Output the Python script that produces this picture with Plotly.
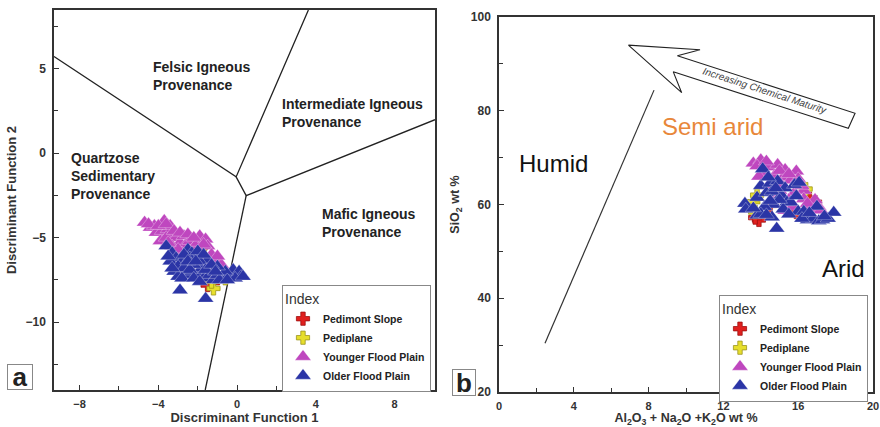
import plotly.graph_objects as go

# ---------------- Panel (a): discriminant function diagram ----------------
a_ped_slope_x = [-1.85, -1.5, -1.2, -2.2, -1.0, -2.7]
a_ped_slope_y = [-5.6, -7.8, -6.3, -6.3, -7.4, -6.6]
a_pediplane_x = [-1.2, -2.9, -0.6, -1.7, -1.3, -1.9]
a_pediplane_y = [-8.0, -6.6, -7.4, -6.7, -7.6, -5.8]
a_younger_x = [-4.7, -4.4, -4.1, -3.7, -3.8, -3.5, -3.3, -3.9, -3.6, -3.1, -2.9, -2.7, -3.3, -2.6,
               -2.4, -2.2, -2.0, -1.9, -1.6, -1.5, -1.8, -2.3, -2.8, -1.3, -1.1, -0.8, -1.6, -2.0,
               -1.4, -3.0, -4.2, -3.4, -4.5, -4.0, -3.6, -3.2, -2.9, -2.5, -2.2, -1.7, -2.5, -3.5,
               -1.0, -1.9]
a_younger_y = [-4.1, -4.4, -4.7, -4.0, -4.6, -4.5, -4.9, -5.2, -5.0, -5.0, -5.3, -4.9, -5.5, -5.4,
               -5.2, -5.6, -5.3, -4.9, -5.1, -5.5, -5.9, -6.0, -5.9, -6.0, -6.4, -6.6, -6.5, -6.6,
               -6.9, -5.7, -4.3, -4.3, -4.2, -4.3, -4.2, -4.6, -4.7, -4.8, -5.0, -5.4, -5.9, -5.3,
               -6.1, -6.2]
a_older_x = [-3.6, -3.3, -3.1, -2.8, -2.5, -2.3, -2.1, -2.6, -2.9, -3.2, -3.0, -2.6, -2.3, -2.0,
             -1.8, -1.7, -1.4, -1.2, -1.0, -0.7, -0.4, -0.2, 0.1, 0.2, -0.1, -0.6, -1.5, -1.9,
             -2.2, -2.4, -2.0, -1.7, -2.9, -1.6, -1.0, -2.7, -0.9, -3.4, -3.5, -3.0, -2.7, -2.4,
             -1.6, -1.3, -1.1, -0.5, 0.3, -2.8, -2.2, -1.9, -2.5, -3.3, -2.1]
a_older_y = [-5.5, -5.9, -6.2, -6.4, -5.7, -5.9, -6.1, -6.6, -6.9, -7.0, -7.3, -7.2, -7.0, -7.2,
             -6.8, -7.4, -7.2, -7.5, -7.2, -7.3, -7.2, -6.9, -7.0, -7.3, -7.4, -7.0, -6.3, -6.4,
             -6.6, -6.2, -5.8, -6.0, -8.1, -8.6, -6.7, -6.0, -7.5, -6.4, -6.1, -6.7, -6.8, -6.9,
             -6.9, -6.6, -7.0, -7.5, -7.3, -7.4, -7.4, -7.6, -6.4, -6.8, -6.4]

# provenance field boundaries (segments separated by None)
bound_x = [-9.3, -0.05, 3.62, None, -0.05, 0.46, 10.05, None, 0.46, -1.62]
bound_y = [5.7, -1.41, 8.45, None, -1.41, -2.52, 1.97, None, -2.52, -14.0]

a_labels = ["Felsic Igneous<br>Provenance", "Intermediate Igneous<br>Provenance",
            "Quartzose<br>Sedimentary<br>Provenance", "Mafic Igneous<br>Provenance"]
a_label_x = [-4.35, 2.2, -8.55, 4.2]
a_label_y = [4.56, 2.35, -1.34, -4.14]

# ---------------- Panel (b): SiO2 vs Al2O3+Na2O+K2O ----------------
b_ped_slope_x = [13.9, 16.6, 15.9, 13.7, 16.9, 14.5]
b_ped_slope_y = [56.7, 61.2, 58.4, 57.2, 60.5, 59.8]
b_pediplane_x = [13.6, 16.4, 13.7, 16.7, 13.8]
b_pediplane_y = [60.6, 63.3, 58.4, 59.0, 62.0]
b_younger_x = [13.6, 14.0, 14.4, 14.9, 15.3, 15.9, 14.2, 14.7, 15.2, 15.6, 16.0, 16.3, 16.3, 16.8,
               17.1, 15.8, 15.3, 15.7, 14.6, 15.0, 14.4, 16.6, 15.5, 13.9, 16.9, 13.8, 14.3, 15.0,
               15.5, 16.2, 15.1, 14.8, 16.5, 17.2]
b_younger_y = [68.8, 69.5, 68.0, 68.5, 67.4, 67.1, 66.5, 66.0, 65.8, 65.2, 65.5, 63.0, 61.2, 60.0,
               59.5, 62.5, 58.7, 59.5, 61.0, 63.0, 64.0, 59.0, 61.0, 66.0, 61.0, 68.2, 69.2, 67.2,
               66.5, 64.0, 64.2, 62.5, 60.2, 58.8]
b_older_x = [13.15, 13.2, 13.8, 13.8, 14.0, 14.1, 14.3, 14.5, 14.6, 14.85, 14.7, 14.9, 15.1, 15.3,
             15.4, 15.6, 15.8, 16.05, 16.0, 16.5, 16.8, 17.1, 17.3, 17.6, 17.9, 16.3, 15.2, 14.2,
             14.0, 15.9, 14.6, 17.0, 16.2, 14.4, 14.8, 15.0, 13.6, 14.3, 16.6, 17.4, 15.5, 14.5]
b_older_y = [60.2, 59.0, 57.7, 61.5, 64.0, 67.6, 62.5, 64.5, 57.3, 54.9, 60.0, 65.0, 62.0, 63.5,
             60.5, 60.5, 64.2, 64.7, 58.5, 56.7, 57.0, 56.5, 56.7, 57.0, 58.3, 58.5, 59.0, 59.5,
             58.0, 61.8, 62.8, 59.6, 57.0, 65.8, 63.5, 61.0, 59.2, 57.8, 58.2, 57.5, 57.9, 60.8]

trend_x = [2.46, 8.29]
trend_y = [30.4, 84.4]
big_arrow_x = [6.92, 10.75, 9.54, 19.04, 18.68, 9.32, 9.77, 6.92]
big_arrow_y = [94.0, 93.0, 91.75, 79.45, 76.25, 88.3, 83.85, 94.0]

b_labels = ["Humid", "Semi arid", "Arid", "<i>Increasing Chemical Maturity</i>"]
b_label_x = [2.9, 11.4, 18.4, 14.2]
b_label_y = [68.8, 76.6, 46.4, 84.3]

series_names = ["Pedimont Slope", "Pediplane", "Younger Flood Plain", "Older Flood Plain"]

# ---------------- styles ----------------
FONT = "Liberation Sans, Arial, sans-serif"
C_RED = "#E0201E"
C_YEL = "#E6DE2C"
C_MAG = "#BF47BF"
C_BLU = "#2B35A6"

styles = [
    dict(symbol="cross", size=11, color=C_RED, line=dict(color="#9E1010", width=0.8)),
    dict(symbol="cross", size=11, color=C_YEL, line=dict(color="#9C9420", width=0.8)),
    dict(symbol="triangle-up", size=14, color=C_MAG, line=dict(color="white", width=0.3)),
    dict(symbol="triangle-up", size=14, color=C_BLU, line=dict(color="white", width=0.3)),
]

fig = go.Figure()

# panel a boundaries
fig.add_trace(go.Scatter(x=bound_x, y=bound_y, mode="lines", line=dict(color="#222", width=1.3),
                         showlegend=False, hoverinfo="skip", xaxis="x", yaxis="y"))

a_data = [(a_ped_slope_x, a_ped_slope_y), (a_pediplane_x, a_pediplane_y),
          (a_younger_x, a_younger_y), (a_older_x, a_older_y)]
for name, (xs, ys), st in zip(series_names, a_data, styles):
    fig.add_trace(go.Scatter(x=xs, y=ys, mode="markers", name="<b>" + name + "</b>",
                             marker=st, xaxis="x", yaxis="y", legend="legend"))

# panel b trend arrow and maturity arrow
fig.add_trace(go.Scatter(x=trend_x, y=trend_y, mode="lines", line=dict(color="#333", width=1.2),
                         showlegend=False, hoverinfo="skip", xaxis="x2", yaxis="y2"))
fig.add_trace(go.Scatter(x=big_arrow_x, y=big_arrow_y, mode="lines", fill="toself",
                         fillcolor="white", line=dict(color="#222", width=1.1),
                         showlegend=False, hoverinfo="skip", xaxis="x2", yaxis="y2"))

b_data = [(b_ped_slope_x, b_ped_slope_y), (b_pediplane_x, b_pediplane_y),
          (b_younger_x, b_younger_y), (b_older_x, b_older_y)]
for name, (xs, ys), st in zip(series_names, b_data, styles):
    fig.add_trace(go.Scatter(x=xs, y=ys, mode="markers", name="<b>" + name + "</b>",
                             marker=st, xaxis="x2", yaxis="y2", legend="legend2"))

annotations = []
for t, x, y in zip(a_labels, a_label_x, a_label_y):
    annotations.append(dict(text="<b>" + t + "</b>", x=x, y=y, xref="x", yref="y",
                            xanchor="left", yanchor="middle", align="left", showarrow=False,
                            font=dict(family=FONT, size=14, color="#222")))

b_fonts = [dict(size=24, color="#111"), dict(size=24, color="#E8873A"),
           dict(size=24, color="#111"), dict(size=10, color="#444")]
b_angles = [0, 0, 0, 18]
for t, x, y, f, ang in zip(b_labels, b_label_x, b_label_y, b_fonts, b_angles):
    annotations.append(dict(text=t, x=x, y=y, xref="x2", yref="y2", showarrow=False,
                            textangle=ang, xanchor="center", yanchor="middle",
                            font=dict(family=FONT, **f)))

# panel letters
annotations.append(dict(text="<b>a</b>", x=7 / 880, y=(427 - 390) / 427, xref="paper", yref="paper",
                        xanchor="left", yanchor="bottom", showarrow=False,
                        bordercolor="#888", borderwidth=1, borderpad=0, bgcolor="white",
                        font=dict(family=FONT, size=26, color="#222"), width=24, height=24))
annotations.append(dict(text="<b>b</b>", x=452 / 880, y=(427 - 396) / 427, xref="paper", yref="paper",
                        xanchor="left", yanchor="bottom", showarrow=False,
                        bordercolor="#888", borderwidth=1, borderpad=0, bgcolor="white",
                        font=dict(family=FONT, size=26, color="#222"), width=22, height=25))

axis_common = dict(showline=True, linecolor="#333", linewidth=1.5, mirror=True, ticks="inside",
                   ticklen=5, tickcolor="#333", showgrid=False, zeroline=False, automargin=False)

tick_font_x = dict(family=FONT, size=11, color="#333", weight="bold")
tick_font_y = dict(family=FONT, size=12, color="#333", weight="bold")
title_font_a = dict(family=FONT, size=13, color="#333", weight="bold")
title_font_b = dict(family=FONT, size=12.5, color="#333", weight="bold")

leg_common = dict(xanchor="right", yanchor="top", bgcolor="white", bordercolor="#888",
                  borderwidth=1, tracegroupgap=0, itemsizing="trace", itemwidth=30,
                  title=dict(text="Index", font=dict(family=FONT, size=14, color="#333"), side="top"),
                  font=dict(family=FONT, size=10.5, color="#222"))

fig.update_layout(
    width=880, height=427, margin=dict(l=0, r=0, t=0, b=0, autoexpand=False),
    paper_bgcolor="white", plot_bgcolor="white", hovermode=False,
    xaxis=dict(domain=[54 / 880, 435 / 880], range=[-9.3, 10.05], dtick=4, tick0=0,
               minor=dict(ticks="inside", ticklen=4, dtick=2, tick0=0, tickcolor="#333"),
               ticklabelstandoff=3, tickfont=tick_font_x,
               title=dict(text="Discriminant Function 1", standoff=3, font=title_font_a),
               anchor="y", **axis_common),
    yaxis=dict(domain=[(427 - 390) / 427, (427 - 10) / 427], range=[-14, 8.45], dtick=5, tick0=0,
               minor=dict(ticks="inside", ticklen=4, dtick=2.5, tick0=0, tickcolor="#333"),
               ticklabelstandoff=4, tickfont=tick_font_y,
               title=dict(text="Discriminant Function 2", standoff=6, font=title_font_a),
               anchor="x", **axis_common),
    xaxis2=dict(domain=[499 / 880, 873 / 880], range=[0, 20], dtick=4, tick0=0,
                minor=dict(ticks="inside", ticklen=4, dtick=2, tick0=0, tickcolor="#333"),
                ticklabelstandoff=3, tickfont=tick_font_x,
                title=dict(text="Al<sub>2</sub>O<sub>3</sub> + Na<sub>2</sub>O +K<sub>2</sub>O wt %",
                           standoff=3, font=title_font_b), anchor="y2", **axis_common),
    yaxis2=dict(domain=[(427 - 392) / 427, (427 - 17) / 427], range=[20, 100], dtick=20, tick0=0,
                minor=dict(ticks="inside", ticklen=4, dtick=10, tick0=0, tickcolor="#333"),
                ticklabelstandoff=4, tickfont=tick_font_y,
                title=dict(text="SiO<sub>2</sub> wt %", standoff=8, font=title_font_b),
                anchor="x2", **axis_common),
    legend=dict(x=431 / 880, y=(427 - 285) / 427, **leg_common),
    legend2=dict(x=868 / 880, y=(427 - 295) / 427, **leg_common),
    annotations=annotations,
)

fig.write_html("out.html")
